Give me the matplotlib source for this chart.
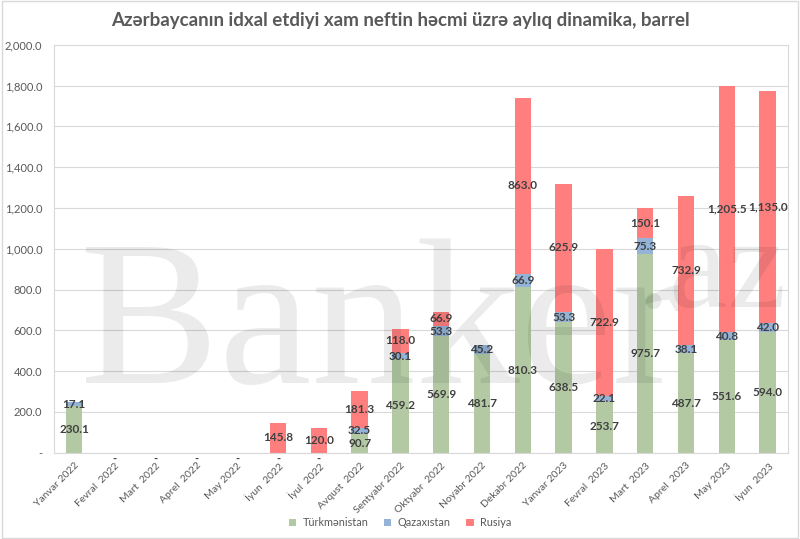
import matplotlib
matplotlib.use("Agg")
import matplotlib.pyplot as plt
import numpy as np
from matplotlib.ticker import FuncFormatter, MultipleLocator

categories = ["Yanvar 2022", "Fevral  2022", "Mart  2022", "Aprel  2022", "May 2022",
              "İyun  2022", "İyul  2022", "Avqust  2022", "Sentyabr 2022", "Oktyabr  2022",
              "Noyabr 2022", "Dekabr 2022", "Yanvar 2023", "Fevral  2023", "Mart  2023",
              "Aprel  2023", "May 2023", "İyun  2023"]
turkmenistan = [230.1, 0, 0, 0, 0, 0, 0, 90.7, 459.2, 569.9, 481.7, 810.3, 638.5, 253.7, 975.7, 487.7, 551.6, 594.0]
qazaxistan = [17.1, 0, 0, 0, 0, 0, 0, 32.5, 30.1, 53.3, 45.2, 66.9, 53.3, 22.1, 75.3, 38.1, 40.8, 42.0]
rusiya = [0, 0, 0, 0, 0, 145.8, 120.0, 181.3, 118.0, 66.9, 0, 863.0, 625.9, 722.9, 150.1, 732.9, 1205.5, 1135.0]
series_names = ["Türkmənistan", "Qazaxıstan", "Rusiya"]
title = "Azərbaycanın idxal etdiyi xam neftin həcmi üzrə aylıq dinamika, barrel"

colors = ["#B3C9A3", "#93B3D7", "#FF7F7F"]
FONT = "Lato"
TXT = "#595959"
LBL = "#404040"

plt.rcParams['font.family'] = [FONT, 'DejaVu Sans']

fig = plt.figure(figsize=(8, 5.39), dpi=100)
ax = fig.add_axes([0.067, 0.16, 0.918, 0.757])

x = np.arange(len(categories))
w = 0.4
bottom = np.zeros(len(categories))
data = [turkmenistan, qazaxistan, rusiya]
for vals, c, name in zip(data, colors, series_names):
    vals = np.array(vals, dtype=float)
    ax.bar(x, vals, w, bottom=bottom, color=c, label=name, zorder=2)
    for xi, v, b in zip(x, vals, bottom):
        if v > 0:
            ax.text(xi, b + v / 2, f"{v:,.1f}", ha="center", va="center",
                    fontsize=8.5, fontweight="bold", color=LBL, zorder=4)
    bottom += vals

for xi, v in zip(x, turkmenistan):
    if v == 0:
        ax.text(xi, -4, "-", ha="center", va="top", fontsize=8, fontweight="bold", color=LBL)

ax.set_xlim(-0.5, len(categories) - 0.5)
ax.set_ylim(0, 2000)
ax.yaxis.set_major_locator(MultipleLocator(200))
ax.yaxis.set_major_formatter(FuncFormatter(lambda v, p: "-" if v == 0 else f"{v:,.1f}"))
ax.grid(axis="y", color="#D9D9D9", linewidth=0.8, zorder=0)
ax.set_axisbelow(True)
for s in ax.spines.values():
    s.set_color("#D9D9D9")
    s.set_linewidth(0.8)
ax.tick_params(axis="both", length=0, colors=TXT)
ax.tick_params(axis="y", labelsize=8, pad=8)
ax.set_xticks(x)
ax.set_xticklabels(categories, rotation=45, ha="right", rotation_mode="anchor", fontsize=7.5)
ax.tick_params(axis="x", pad=6)

fig.text(0.5, 0.962, title, ha="center", va="center", fontsize=13.5, fontweight="bold", color=TXT)

leg = fig.legend(loc="center", bbox_to_anchor=(0.5, 0.03), ncol=3, frameon=False,
                 fontsize=7.8, handlelength=0.7, handleheight=0.7, columnspacing=1.4, handletextpad=0.6)
for t in leg.get_texts():
    t.set_color(TXT)

# watermark
fig.text(0.10, 0.29, "Banker", fontsize=150, family="Liberation Serif", color="black", alpha=0.08,
         ha="left", va="baseline", zorder=10)
fig.text(0.795, 0.43, ".az", fontsize=95, family="Liberation Serif", color="black", alpha=0.08,
         ha="left", va="baseline", zorder=10)

# chart border
fig.patches.append(plt.Rectangle((0.002, 0.002), 0.996, 0.996, transform=fig.transFigure,
                                 fill=False, edgecolor="#D9D9D9", linewidth=1))

fig.savefig("out.png", dpi=100)
